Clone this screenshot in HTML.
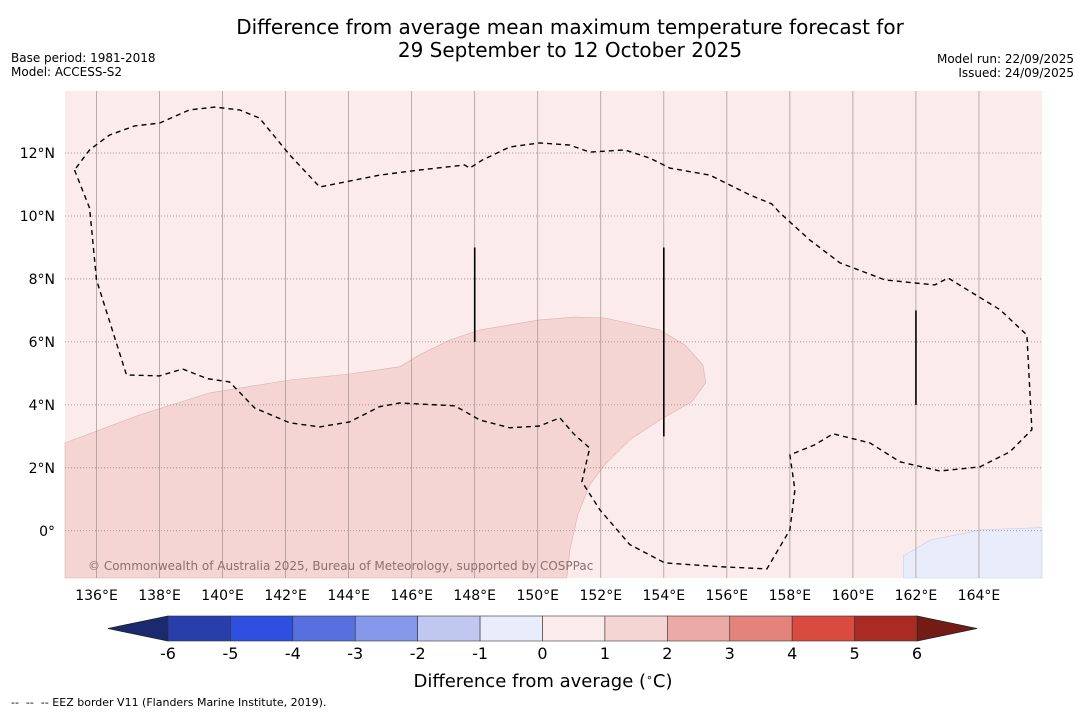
<!DOCTYPE html>
<html><head><meta charset="utf-8">
<style>
body{margin:0;background:#fff;width:1085px;height:713px;overflow:hidden;font-family:"DejaVu Sans","Liberation Sans",sans-serif}
svg{position:absolute;left:0;top:0}
</style></head><body>
<svg id="chart" width="1085" height="713">
<text x="570" y="34" text-anchor="middle" font-size="20" fill="#000">Difference from average mean maximum temperature forecast for</text>
<text x="570" y="57" text-anchor="middle" font-size="20" fill="#000">29 September to 12 October 2025</text>
<text x="11" y="62" font-size="12">Base period: 1981-2018</text>
<text x="11" y="76" font-size="12">Model: ACCESS-S2</text>
<text x="1074" y="63" font-size="12" text-anchor="end">Model run: 22/09/2025</text>
<text x="1074" y="77" font-size="12" text-anchor="end">Issued: 24/09/2025</text>
<g id="map"></g>
<g id="cbar"></g>
<text x="543" y="687" text-anchor="middle" font-size="18">Difference from average (<tspan baseline-shift="super" font-size="11">∘</tspan>C)</text>
<text x="11" y="706" font-size="11">-- &#160;-- &#160;-- EEZ border V11 (Flanders Marine Institute, 2019).</text>
</svg>
<script>
const lonTicks=[136,138,140,142,144,146,148,150,152,154,156,158,160,162,164];
const latTicks=[0,2,4,6,8,10,12];
const cbLevels=[-6,-5,-4,-3,-2,-1,0,1,2,3,4,5,6];
const cbColors=["#283fab","#2e4fe0","#5670e0","#8597ea","#c0c8f2","#e9ecfb","#fbeceb","#f5d5d4","#ebaaa6","#e4837c","#d94a3f","#a92b24"];
const anomaly12=[[135,2.79],[137.37,3.68],[139.59,4.38],[142.13,4.79],[144.03,4.98],[145.62,5.21],[146.25,5.59],[147.21,6.06],[148.16,6.38],[150.06,6.70],[151.17,6.79],[152.13,6.76],[153.87,6.38],[154.67,5.90],[155.24,5.27],[155.33,4.70],[154.89,4.10],[153.87,3.52],[152.92,2.89],[152.13,2.10],[151.65,1.46],[151.27,0.51],[151.02,-0.60],[150.92,-1.5],[135,-1.5]];
const anomalyNeg=[[161.6,-1.5],[161.6,-0.8],[162.45,-0.3],[164.05,0.03],[166,0.1],[166,-1.5]];
const eez=[[135.30,11.46],[135.78,10.25],[136.0,7.97],[136.95,4.95],[138.0,4.92],[138.73,5.14],[139.52,4.83],[140.22,4.73],[141.02,3.90],[142.13,3.43],[143.08,3.30],[144.03,3.46],[144.98,3.94],[145.62,4.06],[147.37,3.97],[148.16,3.52],[149.11,3.27],[150.06,3.33],[150.70,3.59],[151.17,3.05],[151.65,2.63],[151.40,1.56],[151.97,0.67],[152.92,-0.44],[154.03,-1.02],[155.78,-1.14],[157.27,-1.21],[158.0,0.03],[158.16,1.30],[158.0,2.41],[158.79,2.73],[159.37,3.08],[160.54,2.79],[161.49,2.19],[162.76,1.90],[164.03,2.03],[164.98,2.51],[165.68,3.21],[165.52,6.22],[164.67,7.02],[163.02,8.03],[162.60,7.81],[161.97,7.87],[161.02,7.97],[159.59,8.51],[158.63,9.24],[157.68,10.10],[157.43,10.38],[156.73,10.67],[155.46,11.30],[154.19,11.52],[153.56,11.84],[152.76,12.10],[151.65,12.03],[151.02,12.25],[150.06,12.32],[149.11,12.19],[148.25,11.78],[147.84,11.52],[147.68,11.62],[146.25,11.46],[144.98,11.30],[143.08,10.92],[142.13,11.94],[141.17,13.11],[140.54,13.37],[139.75,13.46],[138.95,13.37],[138.0,12.95],[137.21,12.86],[136.41,12.57],[135.78,12.10],[135.30,11.46]];
const eezSegments=[[148,9,6],[154,9,3],[162,7,4]];
const NS="http://www.w3.org/2000/svg";
const X0=65,X1=1042,Y0=91,Y1=578;
const LON0=135,LON1=166,LAT0=-1.5,LAT1=13.97;
function xs(lon){return X0+(lon-LON0)/(LON1-LON0)*(X1-X0);}
function ys(lat){return Y1-(lat-LAT0)/(LAT1-LAT0)*(Y1-Y0);}
function el(t,a,p){const e=document.createElementNS(NS,t);for(const k in a)e.setAttribute(k,a[k]);p.appendChild(e);return e;}
const map=document.getElementById('map');
const bg=el('rect',{x:X0,y:Y0,width:X1-X0,height:Y1-Y0,fill:'#fbeceb'},map);


function pts(a){return a.map(p=>xs(p[0]).toFixed(1)+','+ys(p[1]).toFixed(1)).join(' ');}
const p1=el('polygon',{points:pts(anomaly12),fill:'#f5d5d4',stroke:'#d8b0b0','stroke-width':0.6},map);


const p2=el('polygon',{points:pts(anomalyNeg),fill:'#e9ecfb',stroke:'#c8cde8','stroke-width':0.6},map);


lonTicks.forEach(l=>{
 const g=el('line',{x1:xs(l),x2:xs(l),y1:Y0,y2:Y1,stroke:'#a09090','stroke-width':0.7},map);
 
 
 const t=el('text',{x:xs(l),y:600,'text-anchor':'middle','font-size':14},map);t.textContent=l+'°E';
 
 
});
latTicks.forEach(l=>{
 const g=el('line',{x1:X0,x2:X1,y1:ys(l),y2:ys(l),stroke:'#908080','stroke-width':0.8,'stroke-dasharray':'1,2'},map);
 
 
 const t=el('text',{x:55,y:ys(l)+5,'text-anchor':'end','font-size':14},map);t.textContent=l===0?'0°':l+'°N';
 
 
});
const ez=el('polyline',{points:pts(eez),fill:'none',stroke:'#000','stroke-width':1.4,'stroke-dasharray':'5,4'},map);


eezSegments.forEach(s=>{
 const l=el('line',{x1:xs(s[0]),x2:xs(s[0]),y1:ys(s[1]),y2:ys(s[2]),stroke:'#000','stroke-width':1.6},map);
 
 
});
const cp=el('text',{x:88,y:570,'font-size':12,fill:'#8a7070'},map);cp.textContent='© Commonwealth of Australia 2025, Bureau of Meteorology, supported by COSPPac';


const cb=document.getElementById('cbar');
const CB0=168,CB1=917,CY=616,CH=25;
function cx(v){return CB0+(v-cbLevels[0])/(cbLevels[cbLevels.length-1]-cbLevels[0])*(CB1-CB0);}
const lt=el('polygon',{points:`${CB0},${CY} ${108},${CY+CH/2} ${CB0},${CY+CH}`,fill:'#1b2a70',stroke:'#222','stroke-width':0.8},cb);


const rt=el('polygon',{points:`${CB1},${CY} ${977},${CY+CH/2} ${CB1},${CY+CH}`,fill:'#741b15',stroke:'#222','stroke-width':0.8},cb);


cbColors.forEach((c,i)=>{
 const r=el('rect',{x:cx(cbLevels[i]),y:CY,width:cx(cbLevels[i+1])-cx(cbLevels[i]),height:CH,fill:c,stroke:'#333','stroke-width':0.6},cb);
 
 
});
cbLevels.forEach(v=>{
 const t=el('text',{x:cx(v),y:659,'text-anchor':'middle','font-size':16},cb);t.textContent=v;
 
 
});
</script>
</body></html>
